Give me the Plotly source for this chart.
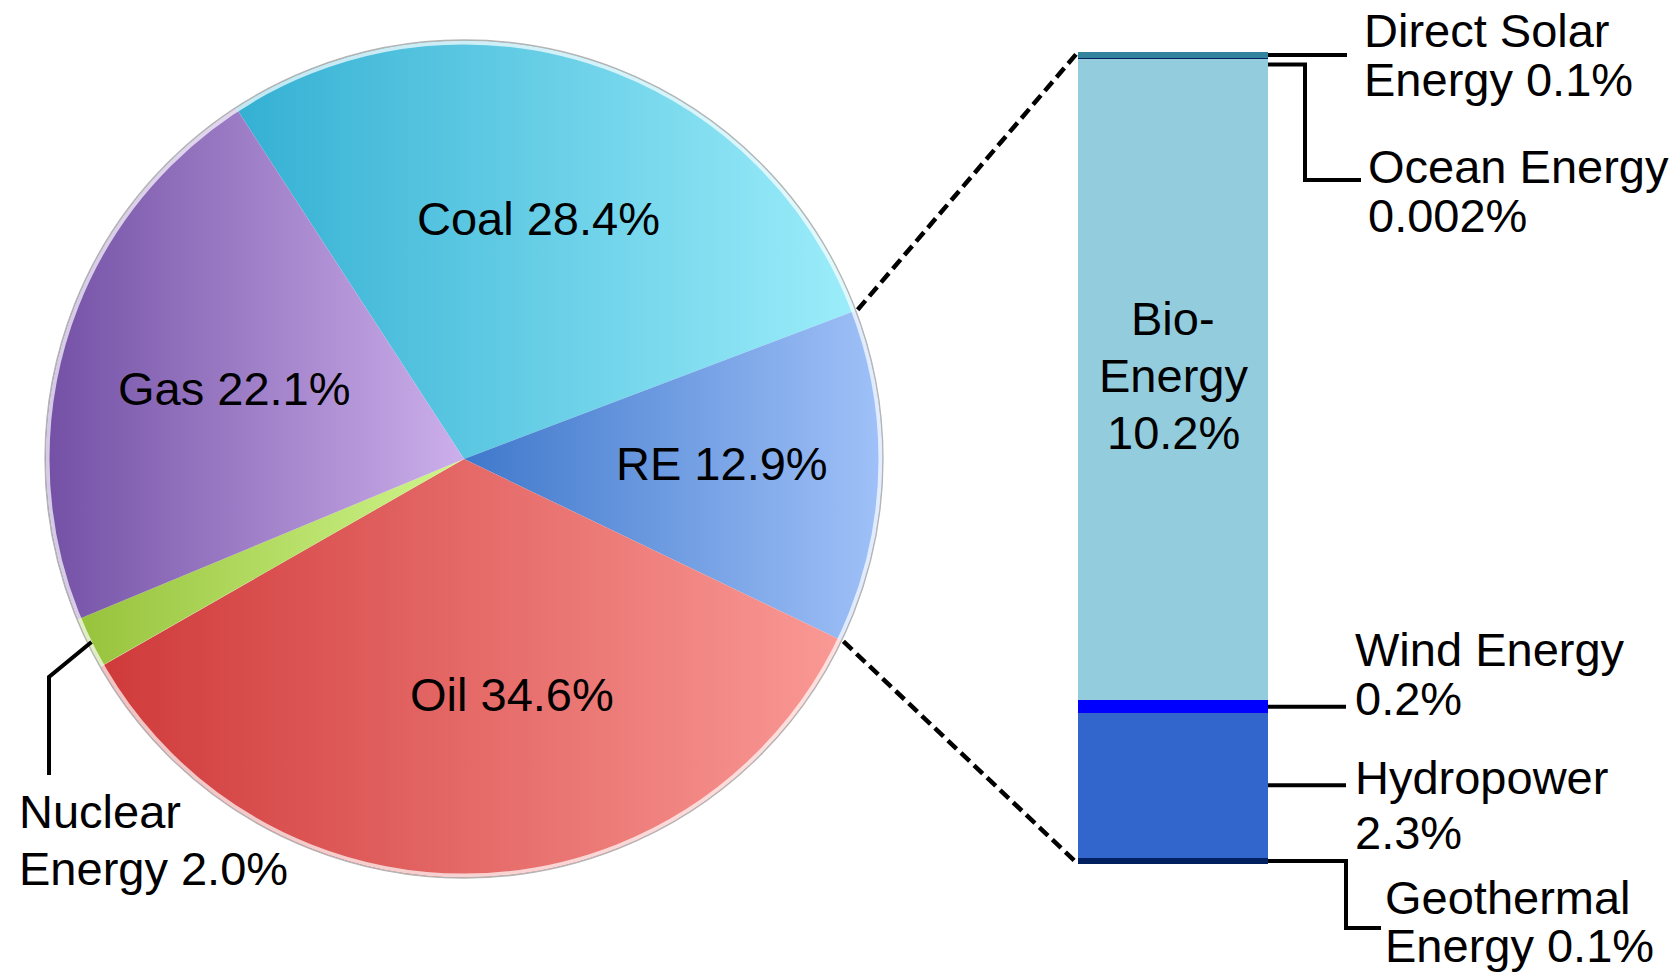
import numpy as np
import plotly.graph_objects as go

# ---------------------------------------------------------------------------
# Data: shares of global primary energy supply (%)
# ---------------------------------------------------------------------------
sources = ["Coal", "RE", "Oil", "Nuclear Energy", "Gas"]
shares = [28.4, 12.9, 34.6, 2.0, 22.1]

# Breakdown of the renewable (RE) share, listed bottom to top of the bar
re_sources = ["Geothermal Energy", "Hydropower", "Wind Energy",
              "Bio-Energy", "Ocean Energy", "Direct Solar Energy"]
re_shares = [0.1, 2.3, 0.2, 10.2, 0.002, 0.1]

# ---------------------------------------------------------------------------
# Styling
# ---------------------------------------------------------------------------
pie_gradients = {
    "Coal": ("#34b0d3", "#9cedfa"),
    "RE": ("#3f78cb", "#a0c1f8"),
    "Oil": ("#cf3a3a", "#fa9995"),
    "Nuclear Energy": ("#97c23b", "#d0f68c"),
    "Gas": ("#7350a5", "#ccafeb"),
}
bar_colors = {
    "Geothermal Energy": "#002060",
    "Hydropower": "#3366cc",
    "Wind Energy": "#0000ff",
    "Bio-Energy": "#93cddd",
    "Ocean Energy": "#002060",
    "Direct Solar Energy": "#31849b",
}
FONT = "Liberation Sans, Arial, sans-serif"
FS = 47

# Canvas in pixel units (y grows downwards)
W, H = 1679, 976
CX, CY, R = 464, 459, 419          # pie centre and radius
ROT = -33                          # start angle of the first slice, deg clockwise from 12 o'clock
BAR_L, BAR_R, BAR_T, BAR_B = 1078, 1268, 52, 864
BAR_CX, BAR_W = (BAR_L + BAR_R) / 2, BAR_R - BAR_L

RE_TOTAL = float(np.sum(re_shares))
K = (BAR_B - BAR_T) / RE_TOTAL     # pixels per percentage point on the bar axis


def bar_px(v):
    """Vertical pixel position of a cumulative value on the bar axis."""
    return BAR_B - v * K


def pie_pt(angle, r=R):
    a = np.radians(angle)
    return CX + r * np.sin(a), CY - r * np.cos(a)


fig = go.Figure()

# ---------------------------------------------------------------------------
# Pie slices (clockwise), each filled with a left-to-right gradient
# ---------------------------------------------------------------------------
edges = ROT + np.concatenate([[0.0], np.cumsum(shares)]) * 3.6
for i, name in enumerate(sources):
    ang = np.linspace(edges[i], edges[i + 1], 300)
    ax_, ay_ = pie_pt(ang)
    xs = np.concatenate([[CX], ax_, [CX]])
    ys = np.concatenate([[CY], ay_, [CY]])
    c0, c1 = pie_gradients[name]
    fig.add_trace(go.Scatter(
        x=xs, y=ys, mode="lines", fill="toself",
        line=dict(width=0, color=c0),
        fillgradient=dict(type="horizontal", colorscale=[[0, c0], [1, c1]]),
        hoverinfo="skip", showlegend=False, xaxis="x", yaxis="y",
    ))

# ---------------------------------------------------------------------------
# Stacked bar of the renewable breakdown
# ---------------------------------------------------------------------------
for name, val in zip(re_sources, re_shares):
    thin = val < 0.01
    fig.add_trace(go.Bar(
        x=[BAR_CX], y=[val], width=[BAR_W],
        marker=dict(color=bar_colors[name],
                    line=dict(width=2.5 if thin else 0, color=bar_colors[name])),
        hoverinfo="skip", showlegend=False, xaxis="x", yaxis="y2",
    ))

shapes = []

# Pie rim: soft white inner ring and a thin grey outline
shapes.append(dict(type="circle", xref="x", yref="y",
                   x0=CX - R + 2.5, x1=CX + R - 2.5, y0=CY - R + 2.5, y1=CY + R - 2.5,
                   line=dict(color="rgba(255,255,255,0.7)", width=4)))
shapes.append(dict(type="circle", xref="x", yref="y",
                   x0=CX - R, x1=CX + R, y0=CY - R, y1=CY + R,
                   line=dict(color="#b4b4b4", width=1.3)))

# Dashed connectors from the RE slice to the bar
for edge_angle, bar_y in ((edges[1], BAR_T), (edges[2], BAR_B)):
    px, py = pie_pt(edge_angle, R + 2)
    shapes.append(dict(type="line", xref="x", yref="y",
                       x0=px, y0=py, x1=BAR_L, y1=bar_y,
                       line=dict(color="black", width=4.5, dash="12px,6px")))

# Leader lines for the bar segments
cum = np.concatenate([[0.0], np.cumsum(re_shares)])
mid = {n: bar_px((cum[i] + cum[i + 1]) / 2) for i, n in enumerate(re_sources)}
LW = 4


def path(points):
    d = "M " + " L ".join(f"{x:.1f},{y:.1f}" for x, y in points)
    return dict(type="path", xref="x", yref="y", path=d,
                line=dict(color="black", width=LW))


shapes.append(path([(BAR_R, mid["Direct Solar Energy"]), (1347, mid["Direct Solar Energy"])]))
oy = mid["Ocean Energy"] + 6
shapes.append(path([(BAR_R, oy), (1305, oy), (1305, 180), (1361, 180)]))
shapes.append(path([(BAR_R, mid["Wind Energy"]), (1346, mid["Wind Energy"])]))
shapes.append(path([(BAR_R, mid["Hydropower"]), (1346, mid["Hydropower"])]))
gy = mid["Geothermal Energy"]
shapes.append(path([(BAR_R, gy), (1346, gy), (1346, 928), (1381, 928)]))

# Leader for the nuclear slice
nx, ny = pie_pt((edges[3] + edges[4]) / 2, R - 4)
shapes.append(path([(nx, ny), (49, 677), (49, 775)]))

# ---------------------------------------------------------------------------
# Text labels (one annotation per line to keep tight line spacing)
# ---------------------------------------------------------------------------
annotations = []


def label(lines, x, y0, gap, anchor):
    for j, t in enumerate(lines):
        annotations.append(dict(
            text=t, x=x, y=y0 + j * gap, xref="x", yref="y",
            xanchor=anchor, yanchor="middle", showarrow=False,
            font=dict(family=FONT, size=FS, color="black"),
        ))


label([f"Coal {shares[0]:.1f}%"], 538, 218, 0, "center")
label([f"Gas {shares[4]:.1f}%"], 234, 388, 0, "center")
label([f"RE {shares[1]:.1f}%"], 722, 463, 0, "center")
label([f"Oil {shares[2]:.1f}%"], 512, 694, 0, "center")
label(["Nuclear", f"Energy {shares[3]:.1f}%"], 17, 811, 57, "left")

label(["Bio-", "Energy", f"{re_shares[3]:.1f}%"], BAR_CX, 318, 57, "center")
label(["Direct Solar", f"Energy {re_shares[5]:.1f}%"], 1362, 30, 49, "left")
label(["Ocean Energy", f"{re_shares[4]:.3f}%"], 1366, 166, 49, "left")
label(["Wind Energy", f"{re_shares[2]:.1f}%"], 1353, 649, 49, "left")
label(["Hydropower", f"{re_shares[1]:.1f}%"], 1353, 777, 55, "left")
label(["Geothermal", f"Energy {re_shares[0]:.1f}%"], 1383, 897, 48, "left")

fig.update_layout(
    width=W, height=H, autosize=False,
    margin=dict(l=0, r=0, t=0, b=0, pad=0),
    paper_bgcolor="white", plot_bgcolor="white",
    barmode="stack", bargap=0,
    xaxis=dict(domain=[0, 1], range=[0, W], visible=False, fixedrange=True),
    yaxis=dict(domain=[0, 1], range=[H, 0], visible=False, fixedrange=True),
    yaxis2=dict(domain=[0, 1], overlaying="y", visible=False, fixedrange=True,
                range=[(BAR_B - H) / K, BAR_B / K]),
    shapes=shapes,
    annotations=annotations,
    showlegend=False,
)

fig.write_html("out.html", config={"displayModeBar": False})
